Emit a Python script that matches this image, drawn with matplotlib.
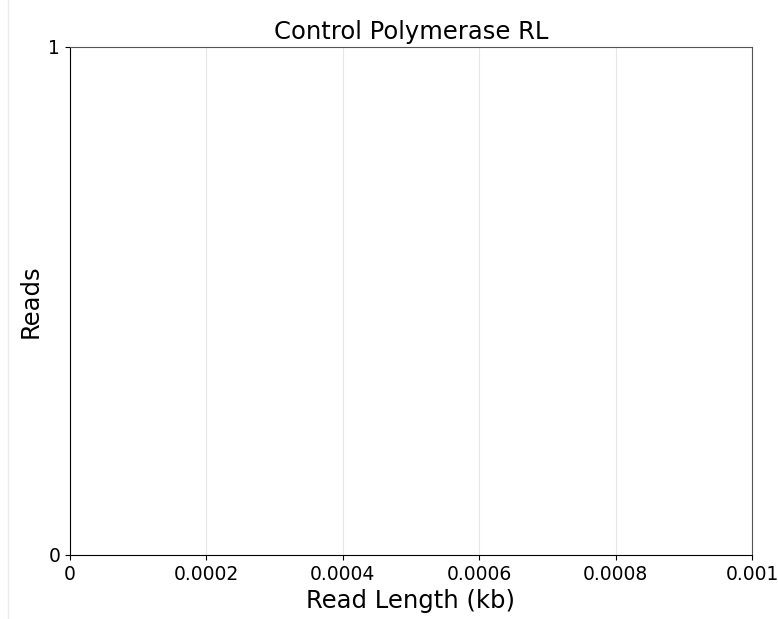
"""
Histograma de longitud de lecturas (sin datos)
"""

import numpy as np
from matplotlib import pyplot as plt
from matplotlib.lines import Line2D

# Datos (vacíos en la figura original)
read_lengths_kb = []
xticks = [0, 0.0002, 0.0004, 0.0006, 0.0008, 0.001]
xtick_labels = ['0', '0.0002', '0.0004', '0.0006', '0.0008', '0.001']
yticks = [0, 1]

fig = plt.figure(figsize=(7.78, 6.19), dpi=100)
ax = fig.add_axes([70/778, 1-555/619, (752-70)/778, (555-47)/619])

if len(read_lengths_kb):
    ax.hist(read_lengths_kb, bins=50, color='#4c72b0')

ax.set_xlim(0, 0.001)
ax.set_ylim(0, 1)
ax.set_xticks(xticks)
ax.set_xticklabels(xtick_labels)
ax.set_yticks(yticks)
ax.tick_params(labelsize=13.5)
ax.grid(axis='x', color='#e6e6e6', linewidth=0.8)
ax.set_axisbelow(True)

ax.spines['top'].set_color('#555555')
ax.spines['right'].set_color('#555555')

ax.set_title('Control Polymerase RL', fontsize=17.5)
ax.set_xlabel('Read Length (kb)', fontsize=17.5)
ax.set_ylabel('Reads', fontsize=17.5)

# linea tenue a la izquierda
fig.add_artist(Line2D([8/778, 8/778], [0, 1], color='#ececec', linewidth=1))

plt.savefig('out.png')
